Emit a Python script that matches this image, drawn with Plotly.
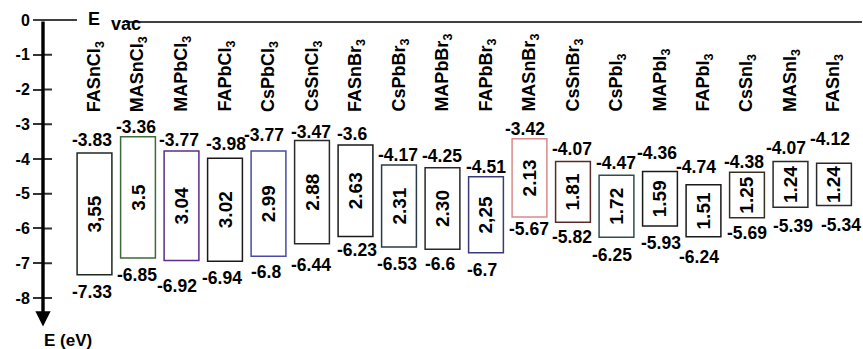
import plotly.graph_objects as go

# Energy-level diagram of halide perovskites (CBM / VBM vs. vacuum, eV)
materials = ["FASnCl<sub>3</sub>", "MASnCl<sub>3</sub>", "MAPbCl<sub>3</sub>", "FAPbCl<sub>3</sub>",
             "CsPbCl<sub>3</sub>", "CsSnCl<sub>3</sub>", "FASnBr<sub>3</sub>", "CsPbBr<sub>3</sub>",
             "MAPbBr<sub>3</sub>", "FAPbBr<sub>3</sub>", "MASnBr<sub>3</sub>", "CsSnBr<sub>3</sub>",
             "CsPbI<sub>3</sub>", "MAPbI<sub>3</sub>", "FAPbI<sub>3</sub>", "CsSnI<sub>3</sub>",
             "MASnI<sub>3</sub>", "FASnI<sub>3</sub>"]
cbm = [-3.83, -3.36, -3.77, -3.98, -3.77, -3.47, -3.6, -4.17, -4.25, -4.51,
       -3.42, -4.07, -4.47, -4.36, -4.74, -4.38, -4.07, -4.12]
vbm = [-7.33, -6.85, -6.92, -6.94, -6.8, -6.44, -6.23, -6.53, -6.6, -6.7,
       -5.67, -5.82, -6.25, -5.93, -6.24, -5.69, -5.39, -5.34]
gap_text = ["3,55", "3.5", "3.04", "3.02", "2.99", "2.88", "2.63", "2.31", "2.30", "2,25",
            "2.13", "1.81", "1.72", "1.59", "1.51", "1.25", "1.24", "1.24"]
energy_ticks = [0, -1, -2, -3, -4, -5, -6, -7, -8]

# label placement tweaks (pixels)
top_dx = [-2.5, -2, -2.5, 1, -4.5, -1, -3.5, -1, 0, 0, -4.5, -1, 0, -3, -7.5, -3, -4.5, -4]
top_dy = [13, 10, 11, 14, 16, 9, 11, 10, 12, 10, 10, 12, 12, 19, 18, 10, 13, 24]
bot_dx = [-2.5, -1, -4.5, -3, -2.5, -1, 1.5, -2, -2.5, -4, 0, -1, -4.5, 1, -4.5, 0, 2.5, 7]
bot_dy = [17, 17, 26, 17, 16, 21, 14, 17, 15, 17, 12, 15, 18, 17, 20, 15, 19, 19]
edge_colors = ["#1c2a1c", "#3b6b3b", "#5b2c8c", "#1a1a1a", "#4a4aa8", "#2a2a2a",
               "#1a1a1a", "#2c3a48", "#2a2a2a", "#3a3a78", "#d98a8a", "#5a2a2a",
               "#2f4f4f", "#1a1a1a", "#1a1a1a", "#3a3020", "#2a2a2a", "#2a2a2a"]

FONT = "Liberation Sans, Arial, sans-serif"
W, H = 863, 349
L = 43
PLOT_W = W - L
idx = list(range(len(materials)))
heights = [t - b for t, b in zip(cbm, vbm)]


def bold(s):
    return f"<b>{s}</b>"


fig = go.Figure()
fig.add_trace(go.Bar(
    x=idx, y=heights, base=vbm, width=0.8,
    marker=dict(color="white", line=dict(color=edge_colors, width=1.5)),
    text=[bold(g) for g in gap_text], textposition="inside", insidetextanchor="middle",
    textangle=-90, constraintext="none",
    textfont=dict(family=FONT, size=19, color="black"),
    hoverinfo="skip", showlegend=False,
))

ann = []
for i, name in enumerate(materials):
    ann.append(dict(x=i + 0.03, y=-2.7, xref="x", yref="y", text=bold(name), showarrow=False,
                    textangle=-90, yanchor="bottom", xanchor="center",
                    font=dict(family=FONT, size=18, color="black")))
    ann.append(dict(x=i, y=cbm[i], xref="x", yref="y", text=bold(f"{cbm[i]:g}"), showarrow=False,
                    xshift=top_dx[i], yshift=top_dy[i],
                    font=dict(family=FONT, size=17.5, color="black")))
    ann.append(dict(x=i, y=vbm[i], xref="x", yref="y", text=bold(f"{vbm[i]:g}"), showarrow=False,
                    xshift=bot_dx[i], yshift=-bot_dy[i],
                    font=dict(family=FONT, size=17.5, color="black")))

# energy axis drawn as a downward arrow
ann.append(dict(x=0, y=-8.82, xref="paper", yref="y", ax=0, ay=0, axref="pixel", ayref="y",
                text="", showarrow=True, arrowhead=2, arrowsize=0.9, arrowwidth=3.4,
                arrowcolor="black"))
ann.append(dict(x=(42 - L) / PLOT_W, y=-9.21, xref="paper", yref="y", text=bold("E (eV)"),
                showarrow=False, font=dict(family=FONT, size=17, color="black")))
# vacuum level label
ann.append(dict(x=(86 - L) / PLOT_W, y=0.02, xref="paper", yref="y", text=bold("E"),
                showarrow=False, font=dict(family=FONT, size=18, color="black")))
ann.append(dict(x=(109 - L) / PLOT_W, y=-0.12, xref="paper", yref="y", text=bold("vac"),
                showarrow=False, font=dict(family=FONT, size=18, color="black")))

shapes = []
# vacuum level line
shapes.append(dict(type="line", xref="paper", yref="y", x0=(33 - L) / PLOT_W, x1=(77 - L) / PLOT_W,
                   y0=0, y1=0, line=dict(color="#404040", width=2)))
shapes.append(dict(type="line", xref="paper", yref="y", x0=(126 - L) / PLOT_W, x1=(862 - L) / PLOT_W,
                   y0=-0.06, y1=-0.06, line=dict(color="#404040", width=2)))
# inner half of the cross-shaped tick marks
for t in energy_ticks[1:]:
    shapes.append(dict(type="line", xref="paper", yref="y", x0=0, x1=9 / PLOT_W,
                       y0=t, y1=t, line=dict(color="#333333", width=2)))

fig.update_layout(
    width=W, height=H,
    margin=dict(l=L, r=0, t=0, b=0),
    paper_bgcolor="white", plot_bgcolor="white",
    showlegend=False,
    xaxis=dict(range=[-1.184, 17.667], visible=False, fixedrange=True),
    yaxis=dict(range=[-9.468, 0.5755], tickvals=energy_ticks,
               ticktext=[bold(t) for t in energy_ticks],
               ticks="outside", ticklen=9, tickwidth=2, tickcolor="#333333",
               showgrid=False, zeroline=False, showline=False,
               tickfont=dict(family=FONT, size=16, color="black")),
    annotations=ann, shapes=shapes,
)

fig.write_html("out.html")
